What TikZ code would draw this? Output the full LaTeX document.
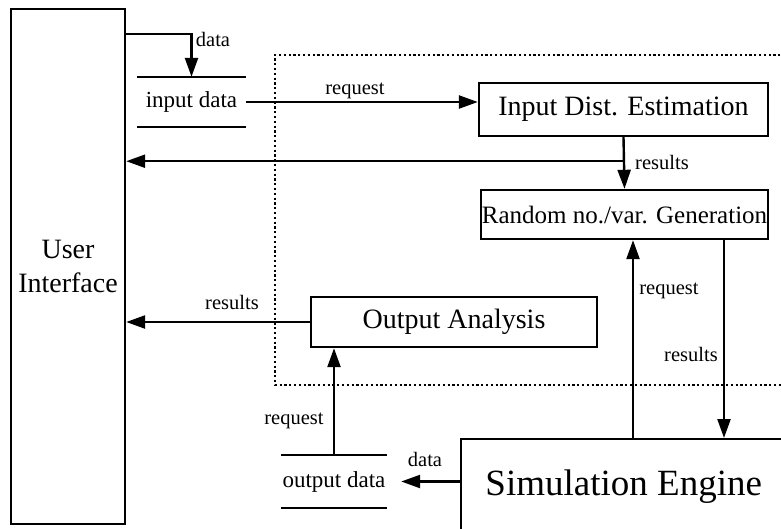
\documentclass[tikz,border=0pt]{standalone}
\usepackage{fontspec}
\setmainfont{Liberation Serif}
\usetikzlibrary{arrows.meta,calc}

\begin{document}
\begin{tikzpicture}[
    x=1pt, y=-1pt,
    line width=2.4pt,
    box/.style={draw, rectangle, inner sep=0, font=\fontsize{28}{34}\selectfont},
    lbl/.style={inner sep=0, font=\fontsize{20.5}{22}\selectfont},
    storetext/.style={inner sep=0, font=\fontsize{23}{25}\selectfont},
    arr/.style={-{Triangle[length=19pt,width=13pt]}},
    frame/.style={line width=2.2pt, dash pattern=on 2.2pt off 2.6pt}]
\useasboundingbox (0,0) rectangle (781,528);
\clip (0,0) rectangle (781,528);

\path[draw, frame] (790,55) -- (275,55) -- (275,385) -- (790,385);

\node (ui) [box, minimum width=114, minimum height=515, align=center] at (68,266.5) {User\\Interface};
\node (ide) [box, minimum width=289, minimum height=53] at (623.5,109.5) {Input Dist. Estimation};
\node (rng) [box, minimum width=287, minimum height=49, font=\fontsize{25}{27}\selectfont] at (624.5,214.5) {Random no./var. Generation};
\node (oa) [box, minimum width=286, minimum height=50] at (454,322) {Output Analysis};
\node (se) [box, minimum width=325, minimum height=94, anchor=north west, font=\fontsize{37}{40}\selectfont] at (460,438) {Simulation Engine};

\node (indata) [storetext, minimum width=107, minimum height=48] at (191.5,102) {input data};
\path[draw] (indata.north west) -- (indata.north east);
\path[draw] (indata.south west) -- (indata.south east);
\node (outdata) [storetext, minimum width=104, minimum height=51] at (334,481.5) {output data};
\path[draw] (outdata.north west) -- (outdata.north east);
\path[draw] (outdata.south west) -- (outdata.south east);

\coordinate (uiout) at ([yshift=-26pt]ui.north east);
\coordinate (split) at ([yshift=-24pt]ide.south);

\draw[arr] (uiout) -| (indata.north);
\draw[arr] (indata.east) -- (indata.east -| ide.west);
\draw[arr] (ide.south) -- (rng.north);
\draw[arr] (split) -- (split -| ui.east);
\draw[arr] (oa.west) -- (oa.west -| ui.east);
\draw[arr] (outdata.north) -- (outdata.north |- oa.south);
\draw[arr] (outdata -| se.west) -- ([xshift=14pt]outdata.east);
\draw[arr] ([xshift=8.5pt]rng.south |- se.north) -- ([xshift=8.5pt]rng.south);
\draw[arr] ([xshift=99.5pt]rng.south) -- ([xshift=99.5pt]rng.south |- se.north);

\node (ldata1) [lbl] at (213,39) {data};
\node (lreq1) [lbl] at (355,91) {request};
\node (lres1) [lbl] at (662,162) {results};
\node (lres2) [lbl] at (232,302) {results};
\node (lreq2) [lbl] at (294,421) {request};
\node (ldata2) [lbl] at (425,459) {data};
\node (lreq3) [lbl] at (669,291) {request};
\node (lres3) [lbl] at (691,354) {results};

\end{tikzpicture}
\end{document}
